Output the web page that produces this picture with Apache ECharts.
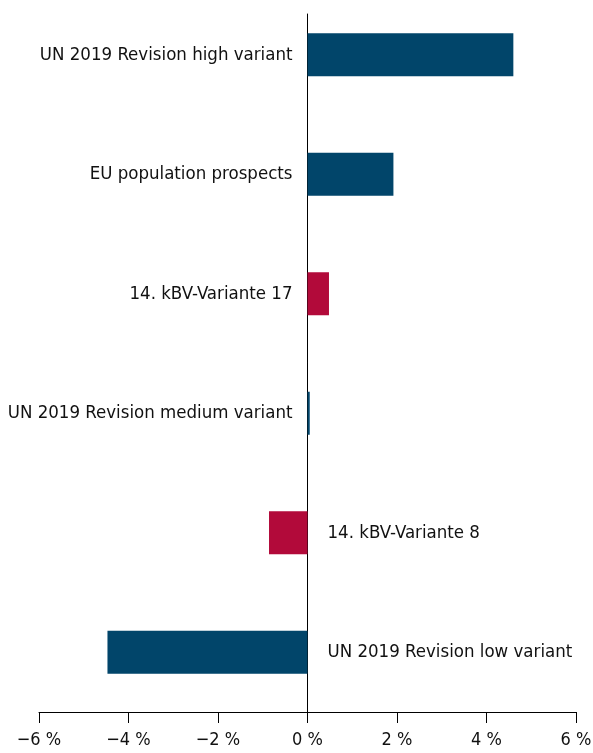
<!DOCTYPE html>
<html>
<head>
<meta charset="utf-8">
<script src="https://cdn.jsdelivr.net/npm/echarts@6/dist/echarts.min.js"></script>
<style>
html,body{margin:0;padding:0;background:#fff;}
#c{width:593px;height:753px;}
</style>
</head>
<body>
<div id="c"></div>
<script>
const categories = [
  "UN 2019 Revision high variant",
  "EU population prospects",
  "14. kBV-Variante 17",
  "UN 2019 Revision medium variant",
  "14. kBV-Variante 8",
  "UN 2019 Revision low variant"
];
const values = [4.6, 1.92, 0.48, 0.05, -0.86, -4.47];
const barColors = ["#01456a", "#01456a", "#b20a3a", "#01456a", "#b20a3a", "#01456a"];
const tickValues = [-6, -4, -2, 0, 2, 4, 6];

const FONT = "'Liberation Sans Narrow', 'DejaVu Sans Condensed', 'Roboto Condensed', sans-serif";

const chart = echarts.init(document.getElementById('c'), null, {renderer: 'canvas'});

const data = values.map((v, i) => ({
  value: v,
  itemStyle: {color: barColors[i]},
  label: {
    show: true,
    position: v >= 0 ? 'left' : 'right',
    distance: v >= 0 ? 15 : 20,
    formatter: categories[i]
  }
}));

chart.setOption({
  animation: false,
  backgroundColor: '#fff',
  grid: [
    {left: 39, right: 17, top: -5, bottom: 41, outerBoundsMode: 'none', containLabel: false},
    {left: 39, right: 17, top: 14, bottom: 41, outerBoundsMode: 'none', containLabel: false}
  ],
  xAxis: [
    {gridIndex: 0, type: 'value', min: -6, max: 6, interval: 2, show: false},
    {
      gridIndex: 1, type: 'value', min: -6, max: 6, interval: 2,
      position: 'bottom',
      axisLine: {show: true, onZero: false, lineStyle: {color: '#000', width: 1}},
      axisTick: {show: true, inside: false, length: 11, lineStyle: {color: '#000', width: 1}},
      splitLine: {show: false},
      axisLabel: {
        margin: 19,
        color: '#111',
        fontFamily: FONT,
        fontSize: 18,
        formatter: v => (v < 0 ? '\u2212' + Math.abs(v) : String(v)) + ' %'
      }
    }
  ],
  yAxis: [
    {
      gridIndex: 0, type: 'category', data: categories, inverse: true,
      axisLine: {show: false}, axisTick: {show: false}, axisLabel: {show: false},
      splitLine: {show: false}
    },
    {
      gridIndex: 1, type: 'value', min: 0, max: 1,
      axisLine: {show: true, onZero: true, lineStyle: {color: '#000', width: 1}},
      axisTick: {show: false}, axisLabel: {show: false}, splitLine: {show: false}
    }
  ],
  series: [
    {
      type: 'bar',
      xAxisIndex: 0,
      yAxisIndex: 0,
      data: data,
      barWidth: 43,
      label: {
        color: '#111',
        fontFamily: FONT,
        fontSize: 18.5
      }
    }
  ]
});
</script>
</body>
</html>
